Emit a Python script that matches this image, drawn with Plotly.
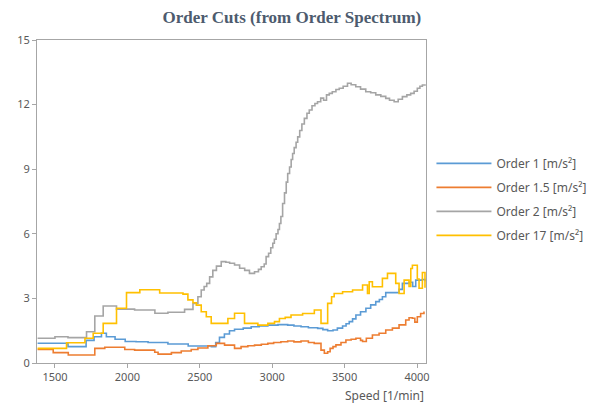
import plotly.graph_objects as go

# Order 1 [m/s²]
order1_rpm = [1380, 1590, 1715, 1770, 1821, 1855, 1915, 1985, 2060, 2143,
              2280, 2420, 2580, 2610, 2636, 2670, 2705, 2740, 2800, 2855,
              2910, 2970, 3040, 3107, 3150, 3199, 3250, 3314, 3350, 3383,
              3420, 3450, 3486, 3510, 3532, 3555, 3578, 3610, 3647, 3680,
              3715, 3740, 3761, 3784, 3853, 3876, 3899, 3945, 3970, 3991,
              4037, 4055]
order1_val = [0.92, 0.76, 1.05, 1.22, 1.38, 1.22, 1.10, 1.00, 0.99, 0.95,
              0.88, 0.79, 0.76, 0.95, 1.19, 1.35, 1.50, 1.57, 1.62, 1.68,
              1.72, 1.76, 1.78, 1.76, 1.72, 1.68, 1.64, 1.61, 1.55, 1.50,
              1.53, 1.62, 1.72, 1.82, 1.92, 2.05, 2.23, 2.38, 2.54, 2.70,
              2.85, 2.95, 3.08, 3.27, 3.27, 3.42, 3.70, 3.75, 3.55, 3.85,
              3.88, 3.80]

# Order 1.5 [m/s²]
order15_rpm = [1380, 1488, 1592, 1775, 1844, 1982, 2050, 2189, 2212, 2304,
               2372, 2441, 2487, 2556, 2614, 2671, 2740, 2785, 2832, 2878,
               2925, 2970, 3010, 3060, 3107, 3150, 3199, 3250, 3290, 3337,
               3360, 3383, 3400, 3420, 3440, 3475, 3509, 3545, 3578, 3610,
               3624, 3650, 3692, 3738, 3784, 3830, 3876, 3922, 3945, 3968,
               3985, 4002, 4025, 4048]
order15_val = [0.63, 0.48, 0.37, 0.68, 0.73, 0.63, 0.60, 0.50, 0.41, 0.48,
               0.56, 0.63, 0.70, 0.80, 0.91, 0.83, 0.68, 0.76, 0.80, 0.83,
               0.87, 0.91, 0.95, 0.99, 1.02, 0.98, 1.02, 0.95, 0.91, 0.60,
               0.45, 0.52, 0.68, 0.76, 0.84, 0.95, 1.07, 1.10, 1.15, 1.05,
               1.00, 1.15, 1.30, 1.38, 1.53, 1.62, 1.77, 2.00, 2.10, 2.08,
               1.90, 2.15, 2.30, 2.39]

# Order 2 [m/s²]
order2_rpm = [1380, 1500, 1590, 1718, 1775, 1833, 1925, 2050, 2190, 2280,
              2395, 2453, 2487, 2510, 2530, 2548, 2568, 2590, 2615, 2648,
              2680, 2706, 2740, 2775, 2810, 2843, 2878, 2905, 2924, 2945,
              2958, 2975, 2990, 3004, 3015, 3027, 3040, 3050, 3060, 3072,
              3085, 3097, 3107, 3120, 3131, 3141, 3152, 3165, 3176, 3190,
              3205, 3222, 3240, 3256, 3275, 3295, 3313, 3335, 3355, 3375,
              3394, 3415, 3440, 3463, 3490, 3520, 3545, 3577, 3610, 3646,
              3680, 3715, 3750, 3784, 3810, 3842, 3870, 3899, 3930, 3956,
              3980, 4002, 4020, 4037, 4055]
order2_val = [1.15, 1.22, 1.18, 1.45, 2.18, 2.65, 2.50, 2.46, 2.31, 2.36,
              2.49, 2.77, 3.08, 3.39, 3.55, 3.70, 4.00, 4.30, 4.50, 4.71,
              4.68, 4.63, 4.55, 4.40, 4.30, 4.16, 4.24, 4.35, 4.47, 4.60,
              4.94, 5.10, 5.35, 5.56, 5.75, 6.00, 6.20, 6.48, 6.80, 7.41,
              7.90, 8.40, 8.80, 9.10, 9.45, 9.73, 10.00, 10.25, 10.50, 10.80,
              11.10, 11.36, 11.60, 11.75, 11.95, 12.05, 12.13, 12.30, 12.20, 12.45,
              12.52, 12.60, 12.70, 12.76, 12.85, 12.99, 12.92, 12.83, 12.72, 12.60,
              12.55, 12.45, 12.38, 12.29, 12.20, 12.13, 12.25, 12.37, 12.45, 12.52,
              12.62, 12.76, 12.85, 12.91, 12.95]

# Order 17 [m/s²]
order17_rpm = [1380, 1580, 1707, 1764, 1833, 1925, 1994, 2086, 2223, 2384,
               2418, 2453, 2476, 2510, 2545, 2579, 2694, 2740, 2809, 2901,
               2970, 3016, 3050, 3090, 3130, 3210, 3291, 3337, 3383, 3410,
               3428, 3486, 3555, 3624, 3658, 3670, 3692, 3761, 3784, 3796,
               3853, 3876, 3911, 3945, 3957, 3968, 4002, 4014, 4037, 4055]
order17_val = [0.68, 0.94, 1.15, 1.38, 1.84, 2.54, 3.27, 3.40, 3.25, 3.20,
               2.93, 2.80, 2.69, 2.38, 2.15, 1.84, 2.07, 2.31, 1.84, 1.76,
               1.84, 1.92, 2.07, 2.12, 2.23, 2.30, 2.46, 1.84, 2.77, 3.08,
               3.23, 3.31, 3.39, 3.62, 3.23, 3.77, 3.54, 3.93, 3.93, 4.16,
               3.70, 3.23, 3.85, 3.55, 4.39, 4.54, 3.90, 3.47, 4.20, 3.50]

series = [
    ("Order 1 [m/s²]", order1_rpm, order1_val, "#5B9BD5"),
    ("Order 1.5 [m/s²]", order15_rpm, order15_val, "#ED7D31"),
    ("Order 2 [m/s²]", order2_rpm, order2_val, "#A5A5A5"),
    ("Order 17 [m/s²]", order17_rpm, order17_val, "#FFC000"),
]

y_ticks = [0, 3, 6, 9, 12, 15]
x_ticks = [1500, 2000, 2500, 3000, 3500, 4000]

fig = go.Figure()
for i, (name, xs, ys, color) in enumerate(series):
    assert len(xs) == len(ys), name
    fig.add_trace(go.Scatter(
        x=xs, y=ys, name=name, mode="lines", line_shape="hv",
        line=dict(color=color, width=1.6), legendgroup=f"g{i}",
    ))

axis_grey = "#A6A6A6"
label_grey = "#595959"

# the page body adds an 8px offset, so margins are trimmed by that much
fig.update_layout(
    width=599, height=411,
    margin=dict(l=29, r=181, t=32, b=56),
    paper_bgcolor="white", plot_bgcolor="white",
    font=dict(family="Noto Sans", size=11, color=label_grey),
    title=dict(text="<b>Order Cuts (from Order Spectrum)</b>",
               x=0.474, xanchor="center", y=0.978, yanchor="middle",
               font=dict(family="Liberation Serif", size=17, color="#4D5B6E")),
    legend=dict(x=1.014, xanchor="left", y=0.663, yanchor="top",
                font=dict(size=12, color=label_grey), tracegroupgap=5,
                itemwidth=55, bgcolor="rgba(0,0,0,0)"),
    showlegend=True,
)

fig.update_xaxes(range=[1376, 4062], tickvals=x_ticks, showgrid=False,
                 zeroline=False, showline=True, mirror=True, linecolor=axis_grey,
                 linewidth=1, ticks="outside", ticklen=4, tickcolor=axis_grey,
                 automargin=False)
fig.update_yaxes(range=[0, 15], tickvals=y_ticks, showgrid=False,
                 zeroline=False, showline=True, mirror=True, linecolor=axis_grey,
                 linewidth=1, ticks="outside", ticklen=4, tickcolor=axis_grey,
                 automargin=False)

fig.add_annotation(text="Speed [1/min]", xref="paper", yref="paper",
                   x=1, xanchor="right", y=-0.102, yanchor="middle",
                   showarrow=False, font=dict(size=12, color=label_grey))

fig.write_html("out.html")
